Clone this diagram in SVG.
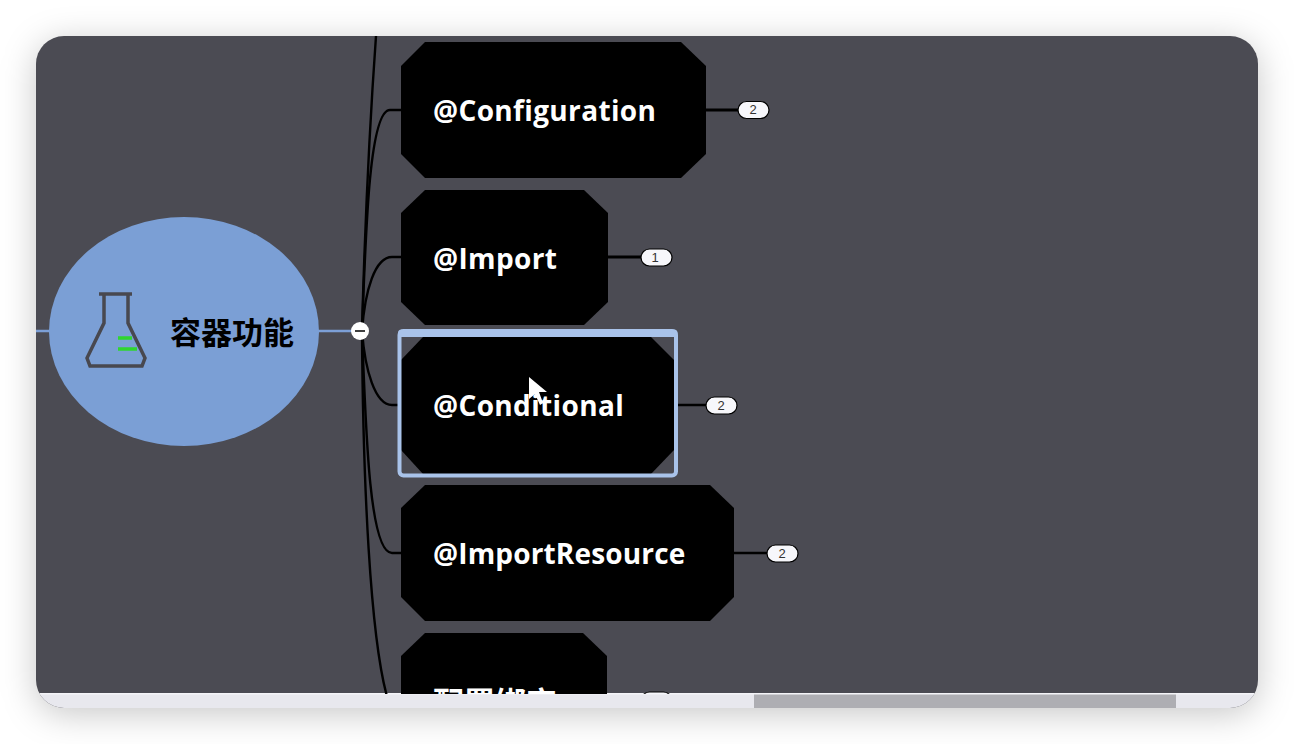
<svg xmlns="http://www.w3.org/2000/svg" width="1294" height="744" viewBox="0 0 1294 744">
<style>
.node{fill:#000}
.lab{font-family:"Open Sans","Noto Sans CJK SC",sans-serif;font-size:28px;font-weight:700;letter-spacing:.35px;fill:#fff}
.conn{fill:none;stroke:#000;stroke-width:2.4}
.stub{fill:none;stroke:#000;stroke-width:3}
.badge{fill:#f7f7fb;stroke:#000;stroke-width:1.2}
.num{font-family:"Liberation Sans",sans-serif;font-size:13px;fill:#333;text-anchor:middle}
</style>
<defs>
<filter id="sh" x="-10%" y="-15%" width="120%" height="130%"><feGaussianBlur stdDeviation="17"/></filter>
<clipPath id="win"><rect x="36" y="36" width="1222" height="672" rx="28"/></clipPath>
<clipPath id="view"><rect x="36" y="36" width="1222" height="658"/></clipPath>
</defs>
<rect width="1294" height="744" fill="#fff"/>
<rect x="36" y="42" width="1222" height="672" rx="28" fill="#000" fill-opacity="0.22" filter="url(#sh)"/>
<g clip-path="url(#win)">
<rect x="36" y="36" width="1222" height="672" fill="#4b4b53"/>
<rect x="36" y="694" width="1222" height="14" fill="#e8e8ee"/>
<rect x="754" y="694" width="422" height="14" fill="#aeaeb3"/>
<rect x="36" y="693" width="1222" height="1.5" fill="#f4f4f8"/>
</g>
<g clip-path="url(#view)">
<g id="connectors">
<path d="M36 331H50M318 331H360" fill="none" stroke="#7c9fd6" stroke-width="2.5"/>
<path class="conn" d="M362 331C365 220 370 120 376 36"/>
<path class="conn" d="M362 331C366 220 370 110 390 110H402"/>
<path class="conn" d="M362 331C365 290 375 257 392 257H402"/>
<path class="conn" d="M362 331C365 370 375 405 392 405H400"/>
<path class="conn" d="M362 331C366 440 370 553 392 553H402"/>
<path class="conn" d="M362 331C363 480 370 640 388 700"/>
<path class="stub" d="M705 110H740M607 257H642"/>
<path class="conn" d="M677 405H708M733 553H768"/>
</g>
<g id="node-root">
<ellipse cx="184" cy="331.500" rx="135" ry="114.500" fill="#7b9fd5"/>
<path d="M99 294H132M104 294V323L87 358L90 366H142L145 358L128 323V294" fill="none" stroke="#48484f" stroke-width="3.500"/>
<path d="M118 338H132M118 349H137" stroke="#2fd62f" stroke-width="3.500"/>
<text x="170" y="344" font-family="'Noto Sans CJK SC',sans-serif" font-size="31" font-weight="700" fill="#000">容器功能</text>
</g>
<g id="node-configuration">
<polygon class="node" points="425,42 681,42 706,66 706,154 681,178 425,178 401,154 401,66"/>
<text class="lab" x="433" y="121">@Configuration</text>
<rect class="badge" x="738" y="101.500" width="31" height="17" rx="8.500"/><text class="num" x="753" y="114">2</text>
</g>
<g id="node-import">
<polygon class="node" points="425,190 584,190 608,213 608,302 584,325 425,325 401,302 401,213"/>
<text class="lab" x="433" y="269">@Import</text>
<rect class="badge" x="641" y="249" width="31" height="17" rx="8.500"/><text class="num" x="655" y="262">1</text>
</g>
<g id="node-conditional">
<polygon class="node" points="423,337 651,337 674,360 674,450 651,474 423,474 401,450 401,360"/>
<rect x="399.500" y="331" width="276.500" height="144.500" rx="4" fill="none" stroke="#a9c3ea" stroke-width="4"/>
<rect x="398" y="329.500" width="279.500" height="7.500" rx="3.500" fill="#a9c3ea"/>
<text class="lab" x="433" y="416">@Conditional</text>
<path d="M529 377L529 399L535 394L540 405L543 403L539 392L547 392Z" fill="#fff"/>
<rect class="badge" x="706" y="397" width="31" height="17" rx="8.500"/><text class="num" x="721" y="410">2</text>
</g>
<g id="node-importresource">
<polygon class="node" points="425,485 710,485 734,508 734,597 710,621 425,621 401,597 401,508"/>
<text class="lab" x="433" y="564" style="letter-spacing:.15px">@ImportResource</text>
<rect class="badge" x="767" y="545" width="31" height="17" rx="8.500"/><text class="num" x="782" y="558">2</text>
</g>
<g id="node-binding">
<polygon class="node" points="425,633 583,633 607,656 607,744 401,744 401,656"/>
<text x="433" y="714" font-family="'Noto Sans CJK SC',sans-serif" font-size="31" font-weight="700" fill="#fff">配置绑定</text>
<rect class="badge" x="641" y="692" width="31" height="17" rx="8.500"/>
</g>
<g id="node-toggle">
<circle cx="360" cy="331" r="9" fill="#fff"/>
<path d="M355 331H365" stroke="#000" stroke-width="1.500"/>
</g>
</g>
</svg>
